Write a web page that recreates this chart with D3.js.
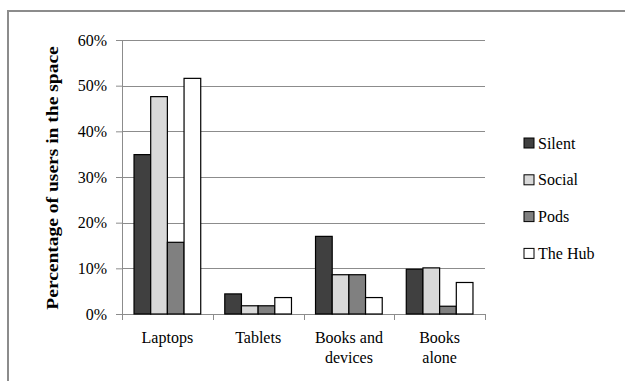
<!DOCTYPE html>
<html>
<head>
<meta charset="utf-8">
<script src="https://cdn.jsdelivr.net/npm/d3@7"></script>
</head>
<body style="margin:0; background:#fff">
<script>
// data
const categories = [["Laptops"], ["Tablets"], ["Books and", "devices"], ["Books", "alone"]];
const seriesNames = ["Silent", "Social", "Pods", "The Hub"];
const seriesColors = ["#404040", "#d9d9d9", "#808080", "#ffffff"];
const silent = [0.349, 0.044, 0.170, 0.098];
const social = [0.476, 0.018, 0.086, 0.101];
const pods = [0.157, 0.018, 0.086, 0.017];
const hub = [0.516, 0.036, 0.036, 0.069];
const yTicks = [0, 0.1, 0.2, 0.3, 0.4, 0.5, 0.6];

const series = [silent, social, pods, hub];

const width = 625, height = 381;
const margin = { top: 40, left: 122, right: 140, bottom: 67 };
const FONT = 'Liberation Serif';

const svg = d3.select('body')
    .append('svg')
    .attr('width', width)
    .attr('height', height);

// outer frame
svg.append('rect')
    .attr('x', 8).attr('y', 11)
    .attr('width', width).attr('height', height)
    .attr('fill', 'none')
    .attr('stroke', '#8c8c8c')
    .attr('stroke-width', 2);

const plotW = width - margin.left - margin.right;
const plotH = height - margin.top - margin.bottom;

const chart = svg.append('g')
    .attr('transform', `translate(${margin.left},${margin.top})`);

const x0 = d3.scaleBand()
    .domain(d3.range(categories.length))
    .range([0, plotW])
    .paddingInner(0.265)
    .paddingOuter(0.1325);

const x1 = d3.scaleBand()
    .domain(d3.range(series.length))
    .range([0, x0.bandwidth()]);

const y = d3.scaleLinear()
    .domain([0, 0.6])
    .range([plotH, 0]);

// gridlines
chart.selectAll('.grid')
    .data(yTicks.slice(1))
    .enter()
    .append('line')
    .attr('x1', 0).attr('x2', plotW)
    .attr('y1', d => Math.round(y(d)) + 0.5)
    .attr('y2', d => Math.round(y(d)) + 0.5)
    .attr('stroke', '#8c8c8c')
    .attr('stroke-width', 1);

// y axis
const yAxis = d3.axisLeft(y)
    .tickValues(yTicks)
    .tickSize(6)
    .tickPadding(9)
    .tickFormat(d3.format('.0%'));

const gy = chart.append('g').call(yAxis);
gy.selectAll('path, line').attr('stroke', '#8c8c8c');
gy.select('.domain').attr('d', `M0.5,0V${plotH}`);
gy.selectAll('text')
    .attr('fill', '#000')
    .attr('font-family', FONT)
    .attr('font-size', 16);

// x axis, ticks at band boundaries
const step = x0.step();
const gx = chart.append('g')
    .attr('transform', `translate(0,${plotH})`);
gx.append('line')
    .attr('x1', 0).attr('x2', plotW)
    .attr('y1', 0.5).attr('y2', 0.5)
    .attr('stroke', '#8c8c8c');
gx.selectAll('.xtick')
    .data(d3.range(categories.length + 1))
    .enter()
    .append('line')
    .attr('x1', d => Math.round(d * step) + 0.5)
    .attr('x2', d => Math.round(d * step) + 0.5)
    .attr('y1', 0).attr('y2', 6)
    .attr('stroke', '#8c8c8c');

// category labels, one text per line
categories.forEach((lines, ci) => {
    gx.selectAll('.xl-' + ci)
        .data(lines)
        .enter()
        .append('text')
        .attr('text-anchor', 'middle')
        .attr('x', x0(ci) + x0.bandwidth() / 2)
        .attr('y', (d, i) => 29 + i * 20)
        .attr('font-family', FONT)
        .attr('font-size', 16)
        .text(d => d);
});

// bars
categories.forEach((c, ci) => {
    chart.selectAll('.bar-' + ci)
        .data(series.map((s, si) => ({ si: si, v: s[ci] })))
        .enter()
        .append('rect')
        .attr('x', d => x0(ci) + x1(d.si))
        .attr('y', d => y(d.v))
        .attr('width', x1.bandwidth())
        .attr('height', d => plotH - y(d.v))
        .attr('fill', d => seriesColors[d.si])
        .attr('stroke', '#000')
        .attr('stroke-width', 1.2);
});

// y title
svg.append('text')
    .attr('transform', `translate(57.5, ${margin.top + 138}) rotate(-90) scale(1.22,1)`)
    .attr('text-anchor', 'middle')
    .attr('font-family', FONT)
    .attr('font-size', 16)
    .attr('font-weight', 'bold')
    .text('Percentage of users in the space');

// legend
const legend = svg.append('g')
    .attr('transform', 'translate(524, 143)');
const li = legend.selectAll('.leg')
    .data(seriesNames)
    .enter()
    .append('g')
    .attr('transform', (d, i) => `translate(0, ${i * 36.8})`);
li.append('rect')
    .attr('x', 0).attr('y', -5)
    .attr('width', 10).attr('height', 10)
    .attr('fill', (d, i) => seriesColors[i])
    .attr('stroke', '#000');
li.append('text')
    .attr('x', 14)
    .attr('y', 5.5)
    .attr('font-family', FONT)
    .attr('font-size', 16)
    .text(d => d);
</script>
</body>
</html>
